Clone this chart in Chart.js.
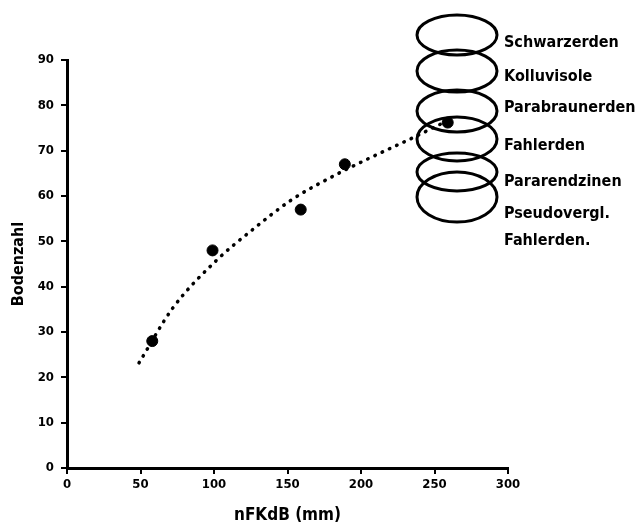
<!DOCTYPE html>
<html>
<head>
<meta charset="utf-8">
<script src="https://cdn.jsdelivr.net/npm/chart.js@4.4.1/dist/chart.umd.min.js"></script>
<style>
  html, body { margin: 0; padding: 0; background: #fff; }
  #wrap { width: 638px; height: 527px; }
</style>
</head>
<body>
<div id="wrap"><canvas id="boden_chart" width="638" height="527"></canvas></div>
<script>
// measured points (nFKdB in mm, Bodenzahl)
var nfk_points = [58, 99, 159, 189, 259];
var bz_points = [28, 48, 57, 67, 76.2];

// dotted trend curve
var nfk_curve = [49, 72, 102, 126, 153, 183, 208, 235, 255];
var bz_curve = [23.2, 35.3, 45.9, 52.5, 59.2, 64.7, 68.7, 72.8, 76];

var x_ticks = [0, 50, 100, 150, 200, 250, 300];
var y_ticks = [0, 10, 20, 30, 40, 50, 60, 70, 80, 90];

var soil_labels = ['Schwarzerden', 'Kolluvisole', 'Parabraunerden', 'Fahlerden', 'Pararendzinen', 'Pseudovergl.', 'Fahlerden.'];

const FONT = "'Liberation Sans Narrow', 'DejaVu Sans Condensed', sans-serif";

function toXY(xs, ys) {
  return xs.map(function (x, i) { return {x: x, y: ys[i]}; });
}

// the hand drawn ellipses and soil names at the top right
const ellipseLegend = {
  id: 'ellipseLegend',
  afterDraw: function (chart) {
    const ctx = chart.ctx;
    const centers = [35, 71, 111, 139, 172, 197];
    const radii = [20, 21, 21, 22, 19, 25];
    ctx.save();
    ctx.strokeStyle = '#000';
    ctx.lineWidth = 3;
    centers.forEach(function (cy, i) {
      ctx.beginPath();
      ctx.ellipse(457, cy, 40, radii[i], 0, 0, Math.PI * 2);
      ctx.stroke();
    });
    ctx.fillStyle = '#000';
    ctx.font = 'bold 16px ' + FONT;
    ctx.textBaseline = 'middle';
    const ys = [43, 77, 108, 146, 182, 214, 241];
    soil_labels.forEach(function (t, i) {
      ctx.fillText(t, 504, ys[i]);
    });
    ctx.restore();
  }
};

const data_boden = {
  datasets: [{
    label: 'Trend',
    data: toXY(nfk_curve, bz_curve),
    showLine: true,
    borderColor: '#000',
    borderWidth: 3.5,
    borderDash: [0.5, 7.5],
    borderCapStyle: 'round',
    cubicInterpolationMode: 'monotone',
    pointRadius: 0,
    fill: false
  }, {
    label: 'Bodenzahl',
    data: toXY(nfk_points, bz_points),
    backgroundColor: '#000',
    borderColor: '#000',
    pointRadius: 5.5,
    pointHoverRadius: 5.5
  }]
};

const config_boden = {
  type: 'scatter',
  data: data_boden,
  plugins: [ellipseLegend],
  options: {
    responsive: false,
    animation: false,
    layout: {padding: {top: 60, right: 130, left: 0, bottom: 0}},
    plugins: {
      legend: {display: false},
      tooltip: {enabled: false}
    },
    scales: {
      x: {
        type: 'linear',
        min: 0,
        max: 300,
        afterFit: function (s) { s.height = 59; },
        afterBuildTicks: function (s) { s.ticks = x_ticks.map(function (v) { return {value: v}; }); },
        border: {color: '#000', width: 3},
        grid: {display: true, drawOnChartArea: false, color: '#000', lineWidth: 2, tickLength: 6},
        ticks: {color: '#000', padding: 3, maxRotation: 0, font: {family: FONT, size: 13, weight: 'bold'}},
        title: {display: true, text: 'nFKdB (mm)', color: '#000', padding: {top: 0, bottom: 1},
                font: {family: FONT, size: 17, weight: 'bold'}}
      },
      y: {
        type: 'linear',
        min: 0,
        max: 90,
        afterFit: function (s) { s.width = 67; },
        afterBuildTicks: function (s) { s.ticks = y_ticks.map(function (v) { return {value: v}; }); },
        border: {color: '#000', width: 3},
        grid: {display: true, drawOnChartArea: false, color: '#000', lineWidth: 2, tickLength: 6},
        ticks: {color: '#000', padding: 7, font: {family: FONT, size: 13, weight: 'bold'}},
        title: {display: true, text: 'Bodenzahl', color: '#000', padding: {top: 9, bottom: 0},
                font: {family: FONT, size: 16, weight: 'bold'}}
      }
    }
  }
};

const myChartBoden = new Chart(document.getElementById('boden_chart'), config_boden);
</script>
</body>
</html>
